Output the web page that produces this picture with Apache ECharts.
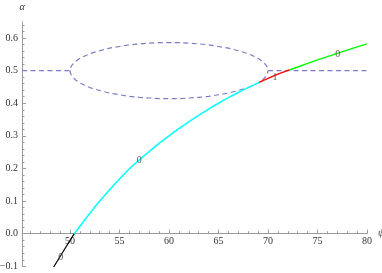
<!DOCTYPE html>
<html><head><meta charset="utf-8">
<script src="https://cdn.jsdelivr.net/npm/echarts@6/dist/echarts.min.js"></script>
<style>html,body{margin:0;padding:0;background:#fff}#c{width:382px;height:273px}</style>
</head><body><div id="c"></div><script>
// Axis ticks
const xMajorTicks = [50, 55, 60, 65, 70, 75, 80];
const xMinorTicks = [46, 47, 48, 49, 51, 52, 53, 54, 56, 57, 58, 59, 61, 62, 63, 64, 66, 67, 68, 69, 71, 72, 73, 74, 76, 77, 78, 79];
const yMajorTicks = [-0.1, 0, 0.1, 0.2, 0.3, 0.4, 0.5, 0.6];
const yMinorTicks = [-0.08, -0.06, -0.04, -0.02, 0.02, 0.04, 0.06, 0.08, 0.12, 0.14, 0.16, 0.18, 0.22, 0.24, 0.26, 0.28, 0.32, 0.34, 0.36, 0.38, 0.42, 0.44, 0.46, 0.48, 0.52, 0.54, 0.56, 0.58, 0.62, 0.64];

// Dashed branch (α = 0.5 line splitting into a loop between ψ≈50 and ψ≈70)
const psiFlatLeft = [45.15, 50];
const psiFlatRight = [70, 80];
const alphaFlat = [0.5, 0.5];
const psiLoop = [50, 50.05, 50.2, 50.5, 51, 52, 53, 54, 55, 56, 57, 58, 59, 60, 61, 62, 63, 64, 65, 66, 67, 68, 69, 69.5, 69.8, 69.95, 70];
const alphaLoopUpper = [0.500, 0.509, 0.517, 0.527, 0.538, 0.552, 0.561, 0.569, 0.574, 0.579, 0.582, 0.584, 0.586, 0.586, 0.586, 0.584, 0.582, 0.579, 0.574, 0.569, 0.561, 0.552, 0.538, 0.527, 0.517, 0.509, 0.500];
const alphaLoopLower = [0.500, 0.491, 0.483, 0.473, 0.462, 0.448, 0.439, 0.431, 0.426, 0.421, 0.418, 0.416, 0.414, 0.414, 0.414, 0.416, 0.418, 0.421, 0.426, 0.431, 0.439, 0.448, 0.462, 0.473, 0.483, 0.491, 0.500];

// Solid branch pieces
const psiBlack = [48.35, 49.4, 50.43];
const alphaBlack = [-0.102, -0.050, 0.000];
const psiCyan = [50.43, 51, 52, 53, 54, 55, 56, 57, 58, 59, 60, 61, 62, 63, 64, 65, 66, 67, 68, 69.1];
const alphaCyan = [0.000, 0.023, 0.062, 0.100, 0.135, 0.168, 0.199, 0.226, 0.252, 0.277, 0.300, 0.322, 0.343, 0.363, 0.382, 0.400, 0.417, 0.433, 0.448, 0.464];
const psiRed = [69.1, 70, 71, 72.15];
const alphaRed = [0.464, 0.476, 0.489, 0.502];
const psiGreen = [72.15, 73, 74, 75, 76, 77, 78, 79, 80];
const alphaGreen = [0.502, 0.511, 0.522, 0.533, 0.543, 0.553, 0.563, 0.573, 0.582];

// Curve labels
const labelPsi = [49.06, 57.0, 70.71, 77.04];
const labelAlpha = [-0.073, 0.224, 0.478, 0.550];
const labelText = ['0', '0', '1', '0'];

const zip = (a, b) => a.map((v, i) => [v, b[i]]);
const FONT = 'Liberation Serif';
const AX = '#9a9a9a';
const TXT = '#333';

const Y_MIN = -0.1, Y_MAX = 0.65;
const W = 382, H = 273;
const GRID = { left: 22, right: 15, top: 21.7, bottom: 6.7 };
const gridH = H - GRID.top - GRID.bottom;
// move the x axis up from the bottom of the grid to α = 0
const xAxisOffset = -((0 - Y_MIN) / (Y_MAX - Y_MIN)) * gridH;

const dashStyle = { color: '#7b7bc6', width: 1.2, type: [5, 3.5] };
const upperPath = zip(psiFlatLeft, alphaFlat).concat(zip(psiLoop, alphaLoopUpper)).concat(zip(psiFlatRight, alphaFlat));

const chart = echarts.init(document.getElementById('c'), null, { renderer: 'canvas' });
chart.setOption({
  animation: false,
  backgroundColor: '#fff',
  grid: Object.assign({ containLabel: false, outerBoundsMode: 'none' }, GRID),
  xAxis: [{
    type: 'value', min: 45.15, max: 80, position: 'bottom', offset: xAxisOffset,
    name: 'ψ', nameLocation: 'end', nameGap: 4,
    nameTextStyle: { fontFamily: FONT, fontStyle: 'italic', fontSize: 10, color: TXT, padding: [0, 0, 3, 0] },
    axisLine: { onZero: false, lineStyle: { color: AX, width: 1 } },
    axisTick: { show: true, inside: true, length: 4, customValues: xMajorTicks, lineStyle: { color: AX } },
    axisLabel: { customValues: xMajorTicks, margin: 3, fontFamily: FONT, fontSize: 10, color: TXT },
    splitLine: { show: false }
  }, {
    type: 'value', min: 45.15, max: 80, position: 'bottom', offset: xAxisOffset,
    axisLine: { show: false, onZero: false },
    axisTick: { show: true, inside: true, length: 2.5, customValues: xMinorTicks, lineStyle: { color: AX } },
    axisLabel: { show: false },
    splitLine: { show: false }
  }],
  yAxis: [{
    type: 'value', min: Y_MIN, max: Y_MAX, position: 'left',
    name: 'α', nameLocation: 'end', nameGap: 9,
    nameTextStyle: { fontFamily: FONT, fontStyle: 'italic', fontSize: 10, color: TXT, align: 'center' },
    axisLine: { show: true, onZero: false, lineStyle: { color: AX, width: 1 } },
    axisTick: { show: true, inside: true, length: 4, customValues: yMajorTicks, lineStyle: { color: AX } },
    axisLabel: { customValues: yMajorTicks, margin: 4, fontFamily: FONT, fontSize: 10, color: TXT,
      formatter: v => (v < 0 ? '\u2212' : '') + Math.abs(v).toFixed(1) },
    splitLine: { show: false }
  }, {
    type: 'value', min: Y_MIN, max: Y_MAX, position: 'left',
    axisLine: { show: false, onZero: false },
    axisTick: { show: true, inside: true, length: 2.5, customValues: yMinorTicks, lineStyle: { color: AX } },
    axisLabel: { show: false },
    splitLine: { show: false }
  }],
  series: [
    { type: 'line', data: upperPath, showSymbol: false, symbol: 'none', lineStyle: dashStyle, z: 2 },
    { type: 'line', data: zip(psiLoop, alphaLoopLower), showSymbol: false, symbol: 'none', lineStyle: dashStyle, z: 2 },
    { type: 'line', data: zip(psiBlack, alphaBlack), symbol: 'none', lineStyle: { color: '#000', width: 1.2 }, z: 3 },
    { type: 'line', data: zip(psiCyan, alphaCyan), symbol: 'none', smooth: 0.3, lineStyle: { color: '#00ffff', width: 1.5 }, z: 3 },
    { type: 'line', data: zip(psiRed, alphaRed), symbol: 'none', lineStyle: { color: '#ff0000', width: 1.4 }, z: 3 },
    { type: 'line', data: zip(psiGreen, alphaGreen), symbol: 'none', lineStyle: { color: '#00ff00', width: 1.4 }, z: 3 },
    { type: 'scatter', data: labelPsi.map((p, i) => ({ value: [p, labelAlpha[i]], name: labelText[i] })),
      symbol: 'circle', symbolSize: 1, itemStyle: { color: 'rgba(0,0,0,0)' }, z: 5,
      label: { show: true, position: 'inside', formatter: p => p.name, fontFamily: FONT, fontSize: 10, color: TXT } }
  ]
});
</script></body></html>
